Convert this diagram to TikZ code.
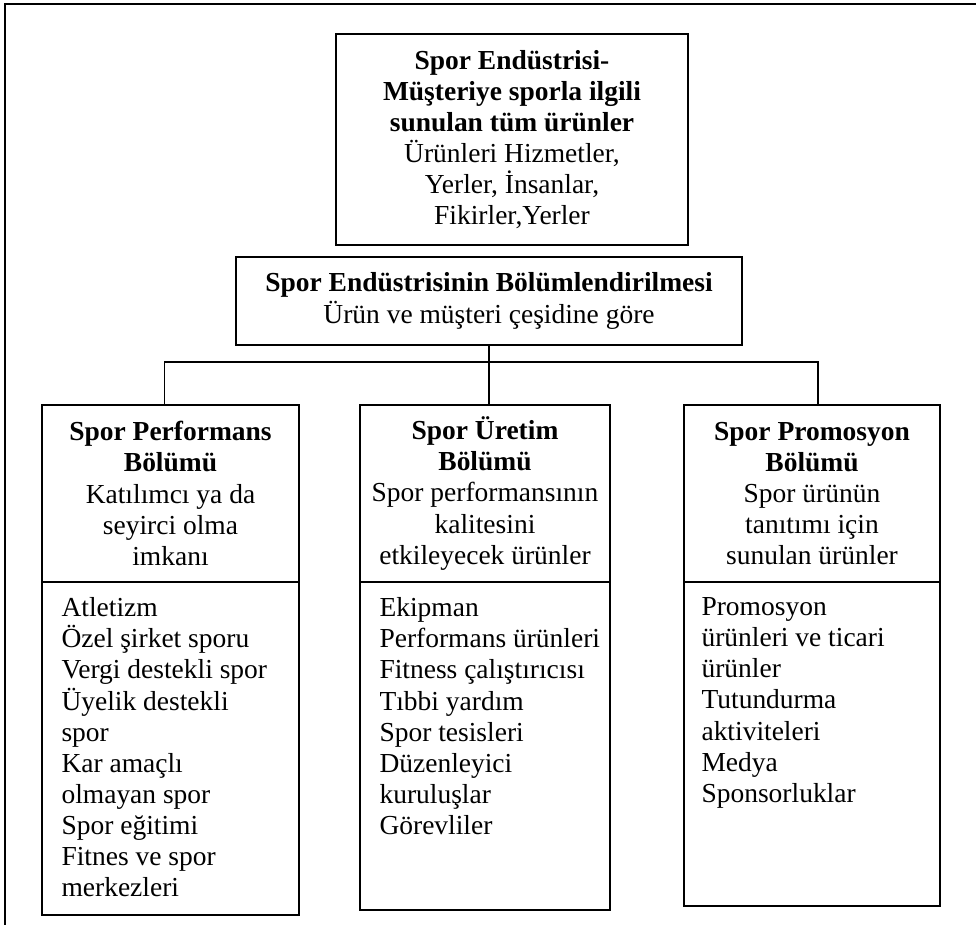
\documentclass[tikz,border=0pt]{standalone}
\usepackage{fontspec}
\setmainfont{Liberation Serif}
\usetikzlibrary{fit}
\begin{document}
\begin{tikzpicture}[x=0.4367pt,y=-0.4367pt,
  box/.style={draw, line width=0.8pt, inner sep=0pt},
  txt/.style={font=\fontsize{12}{13.6}\selectfont, align=center, inner sep=0pt},
  list/.style={font=\fontsize{12}{13.6}\selectfont, align=left, inner sep=0pt, anchor=north west},
  link/.style={line width=0.8pt}]
\useasboundingbox (0,0) rectangle (976,925);
% page frame
\draw[line width=1pt] (5,925) -- (5,4) -- (976,4);

% top level
\node[box, fit={(336,34) (688,245)}] (top) {};
\node[txt] (toptext) at (top.center) {\textbf{Spor Endüstrisi-}\\\textbf{Müşteriye sporla ilgili}\\\textbf{sunulan tüm ürünler}\\Ürünleri Hizmetler,\\Yerler, İnsanlar,\\Fikirler,Yerler};

% segmentation
\node[box, fit={(236,257) (742,345)}] (mid) {};
\node[txt] (midtext) at (mid.center) {\textbf{Spor Endüstrisinin Bölümlendirilmesi}\\Ürün ve müşteri çeşidine göre};

% segment headers
\node[box, fit={(42,405) (299,582)}] (h1) {};
\node[txt] (h1text) at (h1.center) {\textbf{Spor Performans}\\\textbf{Bölümü}\\Katılımcı ya da\\seyirci olma\\imkanı};
\node[box, fit={(360,405) (610,582)}] (h2) {};
\node[txt] (h2text) at (h2.center) {\textbf{Spor Üretim}\\\textbf{Bölümü}\\Spor performansının\\kalitesini\\etkileyecek ürünler};
\node[box, fit={(684,405) (940,582)}] (h3) {};
\node[txt] (h3text) at (h3.center) {\textbf{Spor Promosyon}\\\textbf{Bölümü}\\Spor ürünün\\tanıtımı için\\sunulan ürünler};

% segment contents
\node[box, fit={(42,582) (299,915)}] (l1) {};
\node[list] (l1text) at ([shift={(20,16)}]l1.north west) {Atletizm\\Özel şirket sporu\\Vergi destekli spor\\Üyelik destekli\\spor\\Kar amaçlı\\olmayan spor\\Spor eğitimi\\Fitnes ve spor\\merkezleri};
\node[box, fit={(360,582) (610,910)}] (l2) {};
\node[list] (l2text) at ([shift={(20,16)}]l2.north west) {Ekipman\\Performans ürünleri\\Fitness çalıştırıcısı\\Tıbbi yardım\\Spor tesisleri\\Düzenleyici\\kuruluşlar\\Görevliler};
\node[box, fit={(684,582) (940,906)}] (l3) {};
\node[list] (l3text) at ([shift={(18,16)}]l3.north west) {Promosyon\\ürünleri ve ticari\\ürünler\\Tutundurma\\aktiviteleri\\Medya\\Sponsorluklar};

% connectors
\coordinate (bus) at (489,362);
\coordinate (drop1) at ([shift={(-6,0)}]h1.north);
\coordinate (drop3) at ([shift={(6,0)}]h3.north);
\draw[link] (mid.south) -- (mid.south |- h2.north);
\draw[link] (drop1) -- (drop1 |- bus) -- (drop3 |- bus) -- (drop3);
\end{tikzpicture}
\end{document}
